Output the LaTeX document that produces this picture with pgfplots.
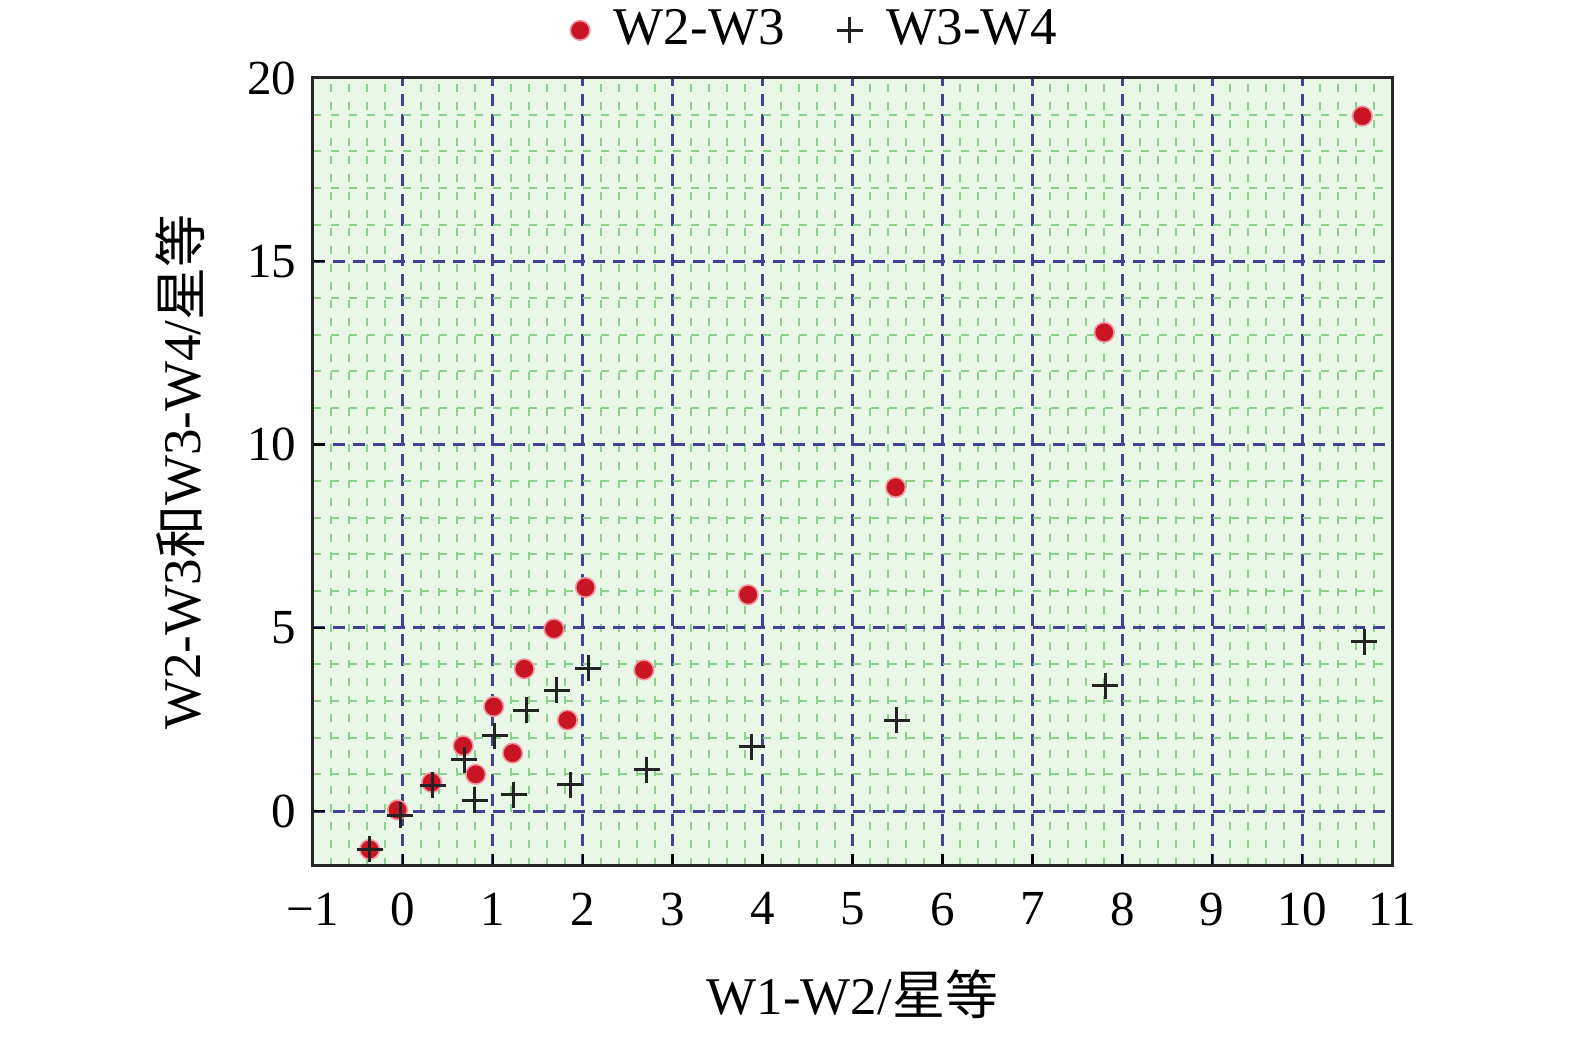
\documentclass[border=0pt]{standalone}
\usepackage{pgfplots}
\pgfplotsset{compat=1.18}
\usepackage{fontspec}
\setmainfont{Liberation Serif}
\newfontfamily\cjk{Noto Sans CJK SC}
\definecolor{bgg}{RGB}{232,247,230}
\definecolor{ming}{RGB}{140,210,140}
\definecolor{majg}{RGB}{65,65,150}
\definecolor{redm}{RGB}{200,20,35}
\definecolor{halo}{RGB}{240,150,160}
\definecolor{plusc}{RGB}{35,35,35}
\pgfplotstableread{
x y
-0.37 -1.05
-0.06 0.03
0.32 0.78
0.67 1.78
0.81 1.00
1.01 2.85
1.22 1.58
1.35 3.88
1.68 4.97
1.83 2.48
2.03 6.10
2.68 3.85
3.84 5.90
5.48 8.83
7.80 13.06
10.67 18.96
}\wtwothree
\pgfplotstableread{
x y
-0.37 -1.04
-0.03 -0.12
0.33 0.70
0.68 1.40
0.80 0.30
1.02 2.05
1.23 0.45
1.37 2.75
1.71 3.30
1.86 0.72
2.06 3.90
2.71 1.12
3.88 1.75
5.49 2.48
7.81 3.42
10.69 4.62
}\wthreefour
\begin{document}
\fontsize{24.5}{29}\selectfont
\begin{tikzpicture}
\useasboundingbox (-156.5pt,-85.5pt) rectangle (631pt,433pt);
\begin{axis}[
  at={(0,0)}, anchor=south west,
  scale only axis, width=539.5pt, height=394pt,
  xmin=-1, xmax=11, ymin=-1.5, ymax=20,
  xtick={-1,0,1,2,3,4,5,6,7,8,9,10,11},
  xticklabels={−1,0,1,2,3,4,5,6,7,8,9,10,11},
  ytick={0,5,10,15,20},
  yticklabels={0,5,10,15,20},
  minor x tick num=4, minor y tick num=4,
  tick pos=left, tick align=inside,
  major tick length=6pt, minor tick length=0pt,
  tick style={black, line width=1.2pt},
  axis line style={line width=1.5pt, black!85},
  axis background/.style={fill=bgg},
  grid=both,
  major grid style={majg, line width=1.5pt, dash pattern=on 6pt off 4pt},
  minor grid style={ming, line width=1pt, dash pattern=on 4pt off 5pt},
  xticklabel style={yshift=-5pt, font=\fontsize{24.5}{29}\selectfont},
  yticklabel style={font=\fontsize{24.5}{29}\selectfont},
  xlabel={W1-W2/{\cjk 星等}},
  ylabel={W2-W3{\cjk 和}W3-W4/{\cjk 星等}},
  xlabel style={at={(axis description cs:0.5,-0.163)}, anchor=center, font=\fontsize{26.5}{31}\selectfont},
  ylabel style={at={(axis description cs:-0.123,0.5)}, anchor=center, font=\fontsize{26.5}{31}\selectfont},
  legend style={at={(0.466,1)}, anchor=south, yshift=9pt, draw=none, fill=none,
    font=\fontsize{26.5}{31}\selectfont, column sep=10pt,
    /tikz/every even column/.append style={column sep=24pt}},
  legend columns=2,
]
\addplot[only marks, mark=*, mark size=4.9pt, mark options={fill=redm, draw=halo, line width=0.8pt}] table {\wtwothree};
\addlegendentry{W2-W3}
\addplot[only marks, mark=+, mark size=6.5pt, mark options={draw=plusc, line width=1.5pt}] table {\wthreefour};
\addlegendentry{W3-W4}
\end{axis}
\end{tikzpicture}
\end{document}
